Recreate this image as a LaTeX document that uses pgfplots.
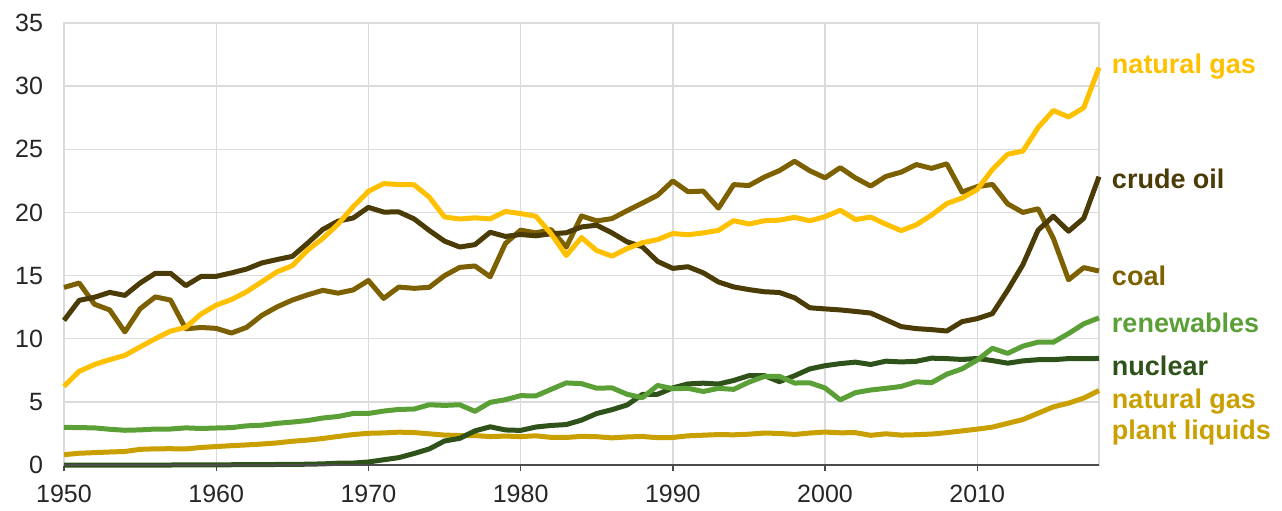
\documentclass[border=0pt]{standalone}
\usepackage{pgfplots}
\pgfplotsset{compat=1.18}
\usepackage{pgfplotstable}
\usepackage{fontspec}
\setmainfont{Liberation Sans}
\definecolor{cgas}{HTML}{FFC000}
\definecolor{ccrude}{HTML}{4B3B06}
\definecolor{ccoal}{HTML}{7D6100}
\definecolor{cren}{HTML}{5B9F37}
\definecolor{cnuc}{HTML}{2E5219}
\definecolor{cngpl}{HTML}{C9A000}
\pgfplotstableread{
year coal gas crude ngpl nuc ren
1950 14.06 6.23 11.45 0.82 0 2.98
1951 14.41 7.42 13.04 0.93 0 2.96
1952 12.73 7.96 13.28 0.98 0 2.94
1953 12.28 8.34 13.67 1.03 0 2.83
1954 10.54 8.68 13.43 1.07 0 2.75
1955 12.37 9.35 14.41 1.24 0 2.78
1956 13.31 10.00 15.18 1.28 0 2.85
1957 13.06 10.60 15.18 1.29 0 2.85
1958 10.78 10.90 14.20 1.27 0.002 2.94
1959 10.89 11.95 14.93 1.39 0.002 2.89
1960 10.82 12.66 14.94 1.46 0.006 2.93
1961 10.45 13.10 15.21 1.53 0.020 2.96
1962 10.90 13.72 15.52 1.59 0.026 3.10
1963 11.85 14.51 16.00 1.66 0.038 3.15
1964 12.52 15.30 16.27 1.75 0.040 3.30
1965 13.06 15.78 16.52 1.88 0.043 3.40
1966 13.47 17.01 17.56 1.97 0.064 3.52
1967 13.83 17.94 18.65 2.10 0.088 3.72
1968 13.61 19.07 19.31 2.26 0.142 3.84
1969 13.86 20.45 19.56 2.41 0.154 4.08
1970 14.61 21.67 20.40 2.51 0.239 4.08
1971 13.19 22.28 20.03 2.54 0.413 4.27
1972 14.09 22.21 20.04 2.60 0.584 4.40
1973 13.99 22.19 19.49 2.57 0.910 4.43
1974 14.07 21.21 18.57 2.47 1.272 4.77
1975 14.99 19.64 17.73 2.37 1.900 4.72
1976 15.65 19.48 17.26 2.33 2.111 4.77
1977 15.76 19.57 17.45 2.33 2.702 4.25
1978 14.91 19.49 18.43 2.25 3.024 4.96
1979 17.54 20.08 18.10 2.29 2.776 5.17
1980 18.60 19.91 18.25 2.25 2.739 5.49
1981 18.38 19.70 18.15 2.31 3.008 5.47
1982 18.64 18.32 18.31 2.19 3.131 5.99
1983 17.25 16.59 18.39 2.18 3.203 6.50
1984 19.72 18.01 18.85 2.27 3.553 6.44
1985 19.33 16.98 18.99 2.24 4.076 6.08
1986 19.51 16.54 18.38 2.15 4.380 6.11
1987 20.14 17.14 17.67 2.22 4.754 5.60
1988 20.74 17.60 17.28 2.26 5.587 5.33
1989 21.36 17.85 16.12 2.16 5.602 6.30
1990 22.49 18.33 15.57 2.18 6.104 6.04
1991 21.64 18.23 15.70 2.31 6.422 6.07
1992 21.69 18.38 15.22 2.36 6.479 5.82
1993 20.34 18.58 14.49 2.41 6.410 6.07
1994 22.20 19.35 14.10 2.39 6.694 5.99
1995 22.13 19.08 13.89 2.44 7.075 6.56
1996 22.79 19.34 13.72 2.53 7.087 7.01
1997 23.31 19.39 13.66 2.50 6.597 7.02
1998 24.05 19.61 13.24 2.42 7.068 6.49
1999 23.30 19.34 12.45 2.53 7.610 6.51
2000 22.74 19.66 12.36 2.61 7.862 6.10
2001 23.55 20.17 12.28 2.55 8.029 5.16
2002 22.73 19.44 12.16 2.56 8.145 5.73
2003 22.09 19.63 12.03 2.35 7.959 5.94
2004 22.85 19.07 11.50 2.47 8.222 6.07
2005 23.19 18.56 10.96 2.37 8.161 6.22
2006 23.79 19.02 10.80 2.40 8.215 6.59
2007 23.49 19.79 10.72 2.45 8.459 6.52
2008 23.85 20.70 10.61 2.56 8.426 7.19
2009 21.62 21.14 11.35 2.70 8.356 7.61
2010 22.04 21.81 11.59 2.84 8.434 8.31
2011 22.22 23.41 11.99 3.00 8.269 9.24
2012 20.68 24.61 13.84 3.30 8.062 8.84
2013 20.00 24.86 15.86 3.60 8.244 9.41
2014 20.29 26.72 18.60 4.10 8.338 9.73
2015 17.95 28.07 19.70 4.60 8.337 9.72
2016 14.67 27.56 18.51 4.90 8.427 10.41
2017 15.63 28.29 19.54 5.30 8.419 11.18
2018 15.36 31.46 22.83 5.90 8.438 11.65
}\data
\begin{document}
\begin{tikzpicture}
\useasboundingbox (0pt,0pt) rectangle (641pt,255pt);
\begin{axis}[
  at={(32pt,22.5pt)}, anchor=south west,
  scale only axis, width=517.5pt, height=221pt,
  xmin=1950, xmax=2018, ymin=0, ymax=35,
  xtick={1950,1960,...,2010}, ytick={0,5,...,35},
  grid=major, grid style={draw=black!14, line width=0.7pt},
  axis line style={draw=black!14, line width=0.8pt},
  xtick pos=bottom, ytick pos=left,
  tick align=outside, major tick length=3pt,
  xtick style={draw=black!70, line width=0.7pt},
  ytick style={draw=none},
  /pgf/number format/1000 sep={},
  /pgf/number format/assume math mode=true,
  tick label style={font=\fontsize{12.5}{14}\selectfont, text=black!85},
  xticklabel style={yshift=-3.5pt},
  yticklabel style={xshift=-4pt},
  clip=false,
  every axis plot/.append style={line width=2.5pt, line join=round, no markers},
]
\addplot[cngpl] table[x=year,y=ngpl]{\data};
\addplot[cnuc] table[x=year,y=nuc]{\data};
\addplot[cren] table[x=year,y=ren]{\data};
\addplot[ccoal] table[x=year,y=coal]{\data};
\addplot[ccrude] table[x=year,y=crude]{\data};
\addplot[cgas] table[x=year,y=gas]{\data};
\draw[black!70, line width=0.9pt] (rel axis cs:0,0) -- (rel axis cs:1,0);
\begin{scope}[every node/.style={anchor=base west, inner sep=0pt, xshift=6.3pt, font=\fontsize{13.5}{15.8}\selectfont\bfseries}]
\node[text=cgas] at (axis cs:2018,31.0) {natural gas};
\node[text=ccrude] at (axis cs:2018,21.9) {crude oil};
\node[text=ccoal] at (axis cs:2018,14.24) {coal};
\node[text=cren] at (axis cs:2018,10.49) {renewables};
\node[text=cnuc] at (axis cs:2018,7.12) {nuclear};
\node[text=cngpl] at (axis cs:2018,4.49) {natural gas};
\node[text=cngpl] at (axis cs:2018,1.98) {plant liquids};
\end{scope}
\end{axis}
\end{tikzpicture}
\end{document}
